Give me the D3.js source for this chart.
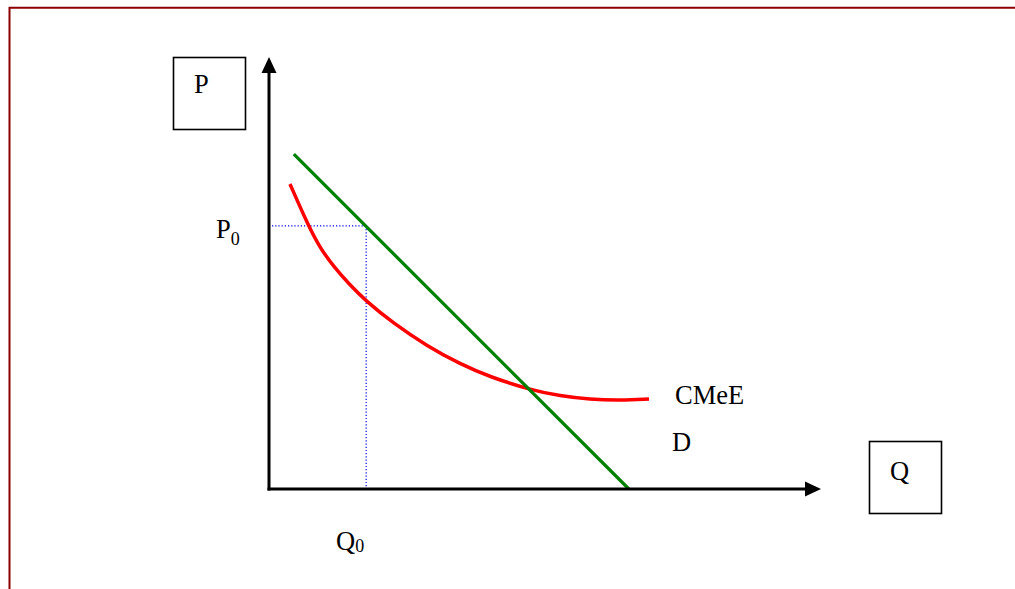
<!DOCTYPE html>
<html>
<head>
<meta charset="utf-8">
<script src="https://cdn.jsdelivr.net/npm/d3@7"></script>
<style>
html,body{margin:0;padding:0;background:#fff;overflow:hidden;}
svg{display:block;}
text{font-family:"Liberation Serif","Times New Roman",serif;fill:#000;}
</style>
</head>
<body>
<svg id="chart" width="1015" height="589"></svg>
<script>
// ---- data (Q and P in chart units, 0..100 on each axis) ----
const demandQ = [4.5, 65.2];
const demandP = [77.5, 0];
const costQ = [3.8, 7.07, 9.24, 11.78, 14.49, 17.57, 22.46, 28.62, 34.6, 40.04, 47.46, 52.72, 58.15, 63.59, 68.84];
const costP = [70.6, 61.11, 55.79, 51.39, 47.45, 43.52, 38.43, 33.1, 28.94, 25.93, 22.92, 21.53, 20.72, 20.49, 20.83];
const equilibriumQ = [17.6];
const equilibriumP = [60.9];
const axisNames = ["P", "Q"];
const curveNames = ["CMeE", "D"];

const svg = d3.select("#chart");
const W = 1015, H = 589;

const x = d3.scaleLinear().domain([0, 100]).range([269, 821]);
const y = d3.scaleLinear().domain([0, 100]).range([489, 57]);

// frame
svg.append("path")
  .attr("d", `M9.5,${H} V7.8 H${W}`)
  .attr("fill", "none").attr("stroke", "#8b0000").attr("stroke-width", 2);

// dotted guides
svg.append("line")
  .attr("x1", x(0) + 3).attr("x2", x(equilibriumQ[0]))
  .attr("y1", y(equilibriumP[0])).attr("y2", y(equilibriumP[0]))
  .attr("stroke", "#0000ff").attr("stroke-width", 1.2).attr("stroke-dasharray", "1.2,2");
svg.append("line")
  .attr("x1", x(equilibriumQ[0])).attr("x2", x(equilibriumQ[0]))
  .attr("y1", y(equilibriumP[0])).attr("y2", y(0))
  .attr("stroke", "#0000ff").attr("stroke-width", 1.2).attr("stroke-dasharray", "1.2,2");

// cost curve (B-spline through the read points, smoothing reading noise)
const costData = costQ.map((q, i) => [q, costP[i]]);
svg.append("path")
  .datum(costData)
  .attr("d", d3.line().x(d => x(d[0])).y(d => y(d[1])).curve(d3.curveBasis))
  .attr("fill", "none").attr("stroke", "#ff0000").attr("stroke-width", 3.5);

// demand
const demandData = demandQ.map((q, i) => [q, demandP[i]]);
svg.append("path")
  .datum(demandData)
  .attr("d", d3.line().x(d => x(d[0])).y(d => y(d[1])))
  .attr("fill", "none").attr("stroke", "#008000").attr("stroke-width", 3.2);

// axes
svg.append("line")
  .attr("x1", x(0)).attr("x2", x(0)).attr("y1", y(0) + 1.5).attr("y2", y(100) + 14)
  .attr("stroke", "#000").attr("stroke-width", 3);
svg.append("line")
  .attr("x1", x(0) - 1.5).attr("x2", x(100) - 14).attr("y1", y(0)).attr("y2", y(0))
  .attr("stroke", "#000").attr("stroke-width", 3);
// arrowheads
svg.append("path")
  .attr("d", `M${x(0)},${y(100)} L${x(0) + 7.5},${y(100) + 16} L${x(0) - 7.5},${y(100) + 16} Z`)
  .attr("fill", "#000");
svg.append("path")
  .attr("d", `M${x(100)},${y(0)} L${x(100) - 16},${y(0) - 7.5} L${x(100) - 16},${y(0) + 7.5} Z`)
  .attr("fill", "#000");

// axis-name boxes
svg.append("rect").attr("x", 173.5).attr("y", 57.5).attr("width", 72).attr("height", 72)
  .attr("fill", "none").attr("stroke", "#000").attr("stroke-width", 1.6);
svg.append("text").attr("x", 194).attr("y", 93).attr("font-size", 26.5).text(axisNames[0]);
svg.append("rect").attr("x", 869.5).attr("y", 441.5).attr("width", 72).attr("height", 72)
  .attr("fill", "none").attr("stroke", "#000").attr("stroke-width", 1.6);
svg.append("text").attr("x", 890).attr("y", 480).attr("font-size", 26.5).text(axisNames[1]);

// P0 and Q0 labels
const p0 = svg.append("text").attr("x", 216).attr("y", y(equilibriumP[0]) + 12).attr("font-size", 26.5);
p0.append("tspan").text("P");
p0.append("tspan").attr("font-size", 18).attr("dy", 7).text("0");
const q0 = svg.append("text").attr("x", 336).attr("y", 550).attr("font-size", 26.5);
q0.append("tspan").text("Q");
q0.append("tspan").attr("font-size", 18).attr("dy", 2).text("0");

// curve names
svg.append("text").attr("x", 675).attr("y", 404).attr("font-size", 26.5).text(curveNames[0]);
svg.append("text").attr("x", 672).attr("y", 451).attr("font-size", 26.5).text(curveNames[1]);
</script>
</body>
</html>
